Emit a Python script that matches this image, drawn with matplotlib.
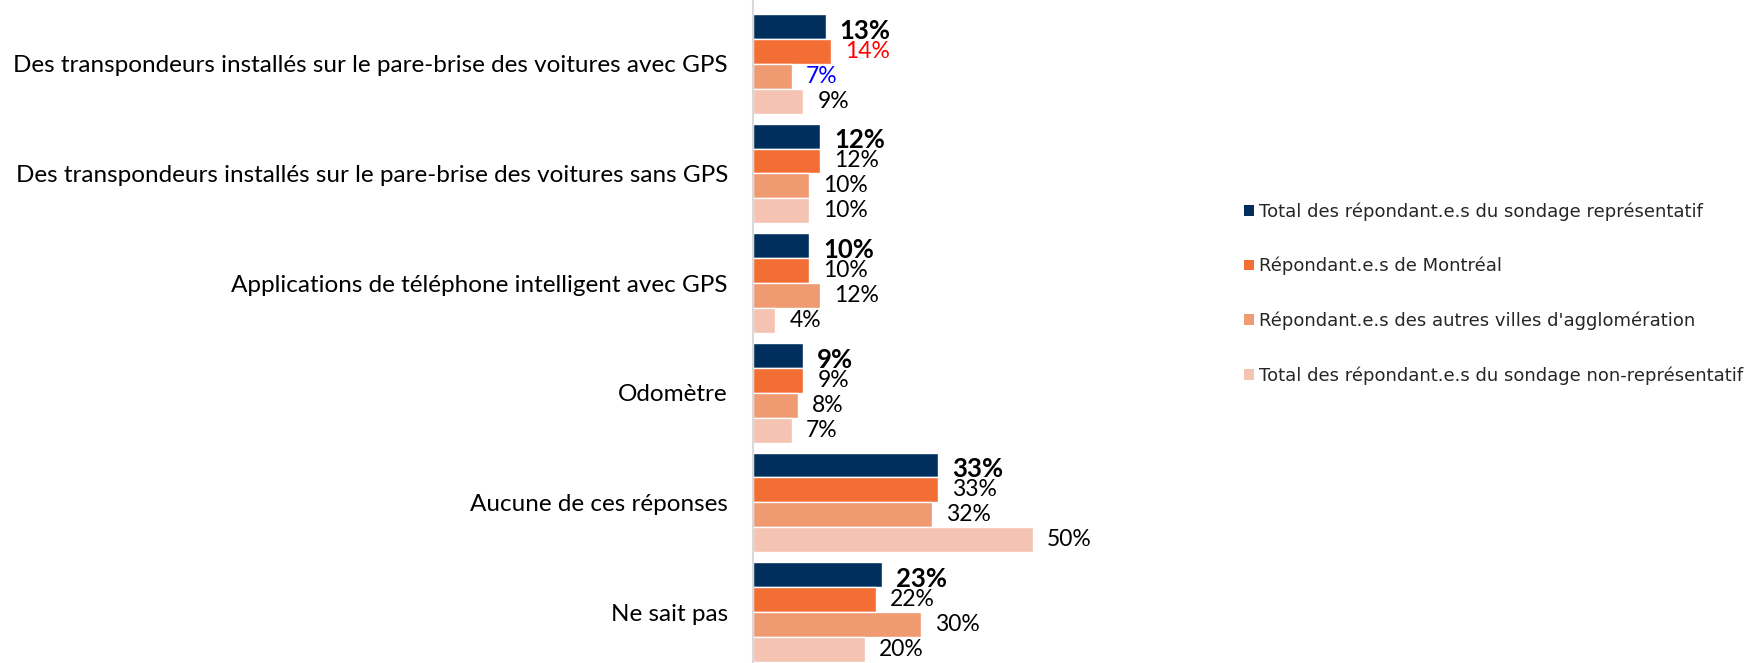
import matplotlib
matplotlib.use("Agg")
import matplotlib.pyplot as plt
import numpy as np
from matplotlib.patches import Patch

categories = [
    "Des transpondeurs installés sur le pare-brise des voitures avec GPS",
    "Des transpondeurs installés sur le pare-brise des voitures sans GPS",
    "Applications de téléphone intelligent avec GPS",
    "Odomètre",
    "Aucune de ces réponses",
    "Ne sait pas",
]
series_names = [
    "Total des répondant.e.s du sondage représentatif",
    "Répondant.e.s de Montréal",
    "Répondant.e.s des autres villes d'agglomération",
    "Total des répondant.e.s du sondage non-représentatif",
]
total_rep = [13, 12, 10, 9, 33, 23]
montreal = [14, 12, 10, 9, 33, 22]
autres_villes = [7, 10, 12, 8, 32, 30]
non_rep = [9, 10, 4, 7, 50, 20]
series = [total_rep, montreal, autres_villes, non_rep]
colors = ["#002F5E", "#F26E35", "#F09A72", "#F4C3B2"]

# label colour overrides (series index, category index) -> colour
label_colors = {(1, 0): "#FF0000", (2, 0): "#0000FF"}

W, H = 1758, 663
fig = plt.figure(figsize=(W / 100, H / 100), dpi=100)
ax_left = 753 / W
ax_right = 1200 / W
ax = fig.add_axes([ax_left, 0.0, ax_right - ax_left, 1.0])

h = 25 / 110
y = np.arange(len(categories))
for i, vals in enumerate(series):
    pos = y + (i - 1.5) * h
    ax.barh(pos, vals, height=h, color=colors[i], edgecolor="white", linewidth=1.0)
    for j, v in enumerate(vals):
        c = label_colors.get((i, j), "black")
        if i == 0:
            ax.annotate(f"{v}%", (v, pos[j]), xytext=(10, -3), textcoords="offset points",
                        ha="left", va="center", fontsize=18.5, fontweight="bold",
                        color=c, family="Lato")
        else:
            ax.annotate(f"{v}%", (v, pos[j]), xytext=(10, 0), textcoords="offset points",
                        ha="left", va="center", fontsize=16.5, color=c, family="Lato")

xmax = (1200 - 753) / 5.6
ax.set_xlim(0, xmax)
top = -2 * h - 14 / 110
bottom = 5 + 2 * h + 0.01
ax.set_ylim(bottom, top)
ax.set_yticks(y)
ax.set_yticklabels(categories, fontsize=17.5, family="Lato")
ax.tick_params(axis="y", length=0, pad=18)
ax.set_xticks([])
for s in ["top", "right", "bottom"]:
    ax.spines[s].set_visible(False)
ax.spines["left"].set_color("#D9D9D9")
ax.spines["left"].set_linewidth(1.5)

handles = [Patch(facecolor=c, edgecolor="none") for c in colors]
leg = fig.legend(handles, series_names, loc="upper left",
                 bbox_to_anchor=(1228 / W, 1 - 186 / H), frameon=False,
                 handlelength=0.55, handleheight=0.55,
                 handletextpad=0.25, labelspacing=2.0,
                 prop={"family": "DejaVu Sans", "size": 13})
for t in leg.get_texts():
    t.set_color("#262626")

fig.savefig("out.png", dpi=100)
